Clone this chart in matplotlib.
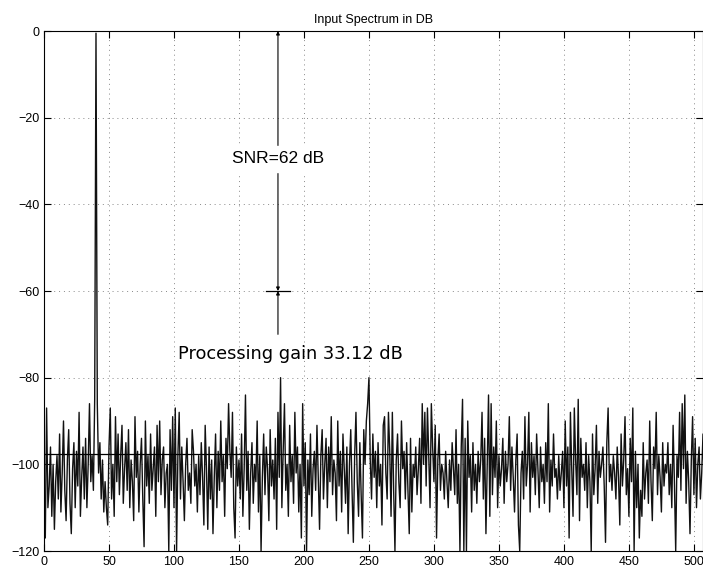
import numpy as np
import matplotlib
matplotlib.use('Agg')
from matplotlib import pyplot as plt

# spectrum values in dB (bin 0..511)
spectrum_db = [
    -107, -117, -87, -110, -105, -96, -112, -100, -115, -104, -98, -108, -93, -111, -102, -90,
    -106, -113, -99, -92, -109, -116, -101, -95, -110, -97, -105, -88, -112, -103, -96, -108,
    -94, -110, -100, -86, -104, -98, -106, -85, -0.5, -86, -102, -95, -108, -99, -111, -104,
    -110, -114, -96, -87, -108, -100, -112, -89, -104, -93, -107, -98, -91, -109, -101, -95,
    -106, -92, -110, -99, -104, -113, -89, -103, -97, -111, -100, -94, -108, -119, -90, -105,
    -98, -109, -93, -106, -101, -96, -112, -91, -104, -90, -107, -99, -96, -110, -102, -100,
    -120, -92, -106, -89, -110, -87, -120, -98, -88, -108, -96, -104, -113, -100, -94, -106,
    -102, -109, -92, -97, -105, -100, -111, -98, -107, -95, -103, -114, -91, -101, -115, -96,
    -108, -99, -116, -103, -93, -110, -97, -106, -90, -104, -98, -112, -94, -101, -86, -97,
    -103, -88, -110, -117, -96, -105, -99, -108, -93, -112, -101, -84, -106, -97, -115, -102,
    -95, -109, -100, -104, -90, -111, -98, -120, -103, -93, -107, -96, -101, -113, -92, -105,
    -99, -108, -94, -115, -88, -103, -80, -110, -97, -86, -106, -100, -112, -91, -104, -98,
    -109, -88, -102, -96, -111, -100, -117, -86, -105, -95, -120, -99, -107, -93, -112, -101,
    -97, -106, -91, -103, -115, -98, -92, -108, -100, -94, -110, -96, -104, -89, -107, -99,
    -102, -113, -90, -105, -97, -111, -93, -101, -109, -96, -116, -100, -92, -106, -118, -98,
    -88, -104, -112, -95, -107, -117, -92, -100, -90, -86, -80, -99, -108, -93, -103, -97,
    -110, -95, -105, -100, -114, -91, -89, -102, -108, -88, -97, -112, -88, -106, -120, -99,
    -93, -104, -110, -90, -101, -97, -108, -95, -106, -116, -94, -111, -100, -103, -96, -107,
    -101, -94, -109, -86, -100, -88, -105, -87, -98, -110, -86, -96, -104, -91, -117, -99,
    -93, -106, -100, -102, -108, -97, -104, -110, -99, -106, -95, -101, -107, -92, -109, -100,
    -120, -96, -85, -120, -94, -120, -90, -103, -98, -111, -95, -106, -100, -109, -97, -104,
    -99, -88, -108, -94, -116, -100, -84, -112, -86, -107, -96, -103, -90, -110, -98, -105,
    -101, -94, -109, -97, -104, -100, -89, -106, -96, -103, -111, -99, -93, -114, -120, -102,
    -97, -108, -89, -105, -100, -88, -111, -95, -103, -98, -107, -93, -101, -110, -96, -104,
    -100, -109, -95, -104, -86, -111, -99, -105, -93, -103, -101, -108, -98, -106, -102, -97,
    -110, -90, -105, -96, -117, -88, -101, -112, -87, -99, -107, -85, -113, -94, -103, -100,
    -106, -95, -110, -98, -104, -120, -93, -107, -101, -91, -109, -97, -103, -100, -96, -105,
    -118, -95, -87, -104, -100, -106, -98, -102, -108, -96, -103, -114, -93, -105, -99, -89,
    -107, -101, -112, -94, -104, -87, -120, -97, -110, -100, -117, -106, -112, -95, -108, -102,
    -99, -109, -90, -104, -113, -96, -101, -88, -107, -98, -103, -111, -95, -105, -100, -102,
    -95, -107, -100, -110, -91, -104, -120, -98, -103, -88, -106, -86, -101, -84, -109, -97,
    -104, -116, -99, -89, -107, -94, -110, -100, -96, -108, -102, -93, -105, -99, -112, -101,
]
noise_floor = -97.6
snr_x = 180
snr_top, snr_bottom = 0, -60
x_ticks = [0, 50, 100, 150, 200, 250, 300, 350, 400, 450, 500]
y_ticks = [0, -20, -40, -60, -80, -100, -120]

bins = np.arange(len(spectrum_db))

fig = plt.figure(figsize=(7.03, 5.73), dpi=100)
ax = fig.add_axes([44 / 703, 22 / 573, 1 - 44 / 703, 520 / 573])

ax.plot(bins, spectrum_db, color='#111111', lw=1.0)
ax.axhline(noise_floor, color='black', lw=0.9)

# SNR arrow from -60 up to 0
ax.annotate('', xy=(snr_x, snr_top), xytext=(snr_x, snr_bottom),
            arrowprops=dict(arrowstyle='<|-|>', color='black', lw=0.8,
                            mutation_scale=5, shrinkA=0, shrinkB=0))
ax.plot([snr_x - 9, snr_x + 9], [snr_bottom, snr_bottom], color='black', lw=0.9)
ax.annotate('', xy=(snr_x, snr_bottom), xytext=(snr_x, -70),
            arrowprops=dict(arrowstyle='-|>', color='black', lw=0.8,
                            mutation_scale=5, shrinkA=0, shrinkB=0))
ax.text(snr_x, -29.5, 'SNR=62 dB', ha='center', va='center', fontsize=12.5,
        family='Liberation Sans', backgroundcolor='white')
ax.text(103, -74.5, 'Processing gain 33.12 dB', ha='left', va='center',
        fontsize=12.8)

ax.set_xlim(0, 507)
ax.set_ylim(-120, 0)
ax.set_xticks(x_ticks)
ax.set_yticks(y_ticks)
ax.grid(True, linestyle=(0, (1, 4)), color='#888888', lw=0.7)
ax.tick_params(direction='in', labelsize=9, length=5, top=True, right=True)
for lab in ax.get_xticklabels() + ax.get_yticklabels():
    lab.set_family('Liberation Sans')
ax.set_title('Input Spectrum in DB', fontsize=9, family='Liberation Sans', pad=6)

fig.savefig('out.png', dpi=100)
